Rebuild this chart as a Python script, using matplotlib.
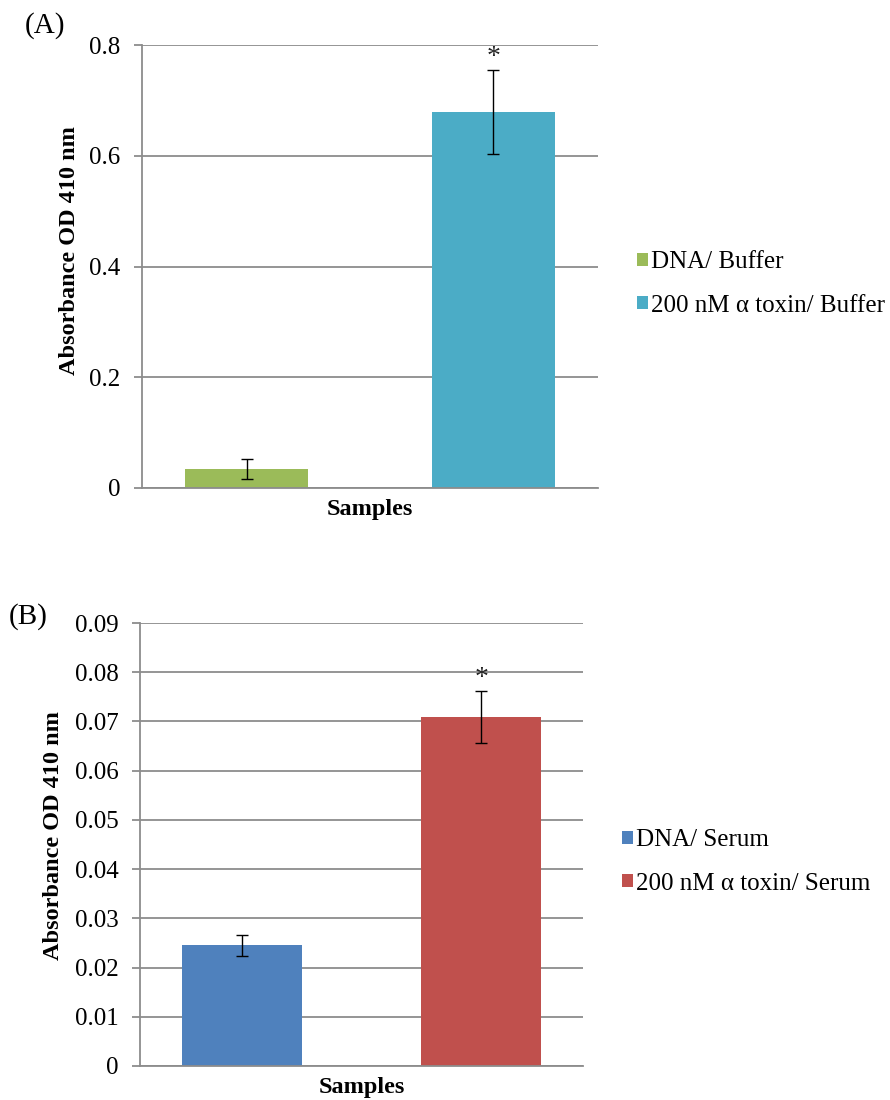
import matplotlib
matplotlib.use("Agg")
import matplotlib.pyplot as plt
from matplotlib.patches import Patch

plt.rcParams['font.family'] = ['Liberation Serif', 'DejaVu Serif']

# ---- data ----
labels_A = ["DNA/ Buffer", "200 nM \u03b1 toxin/ Buffer"]
values_A = [0.034, 0.679]
errors_A = [0.018, 0.076]
signif_A = ["", "*"]

labels_B = ["DNA/ Serum", "200 nM \u03b1 toxin/ Serum"]
values_B = [0.0245, 0.0709]
errors_B = [0.0022, 0.0053]
signif_B = ["", "*"]

colors_A = ["#9BBB59", "#4BACC6"]
colors_B = ["#4F81BD", "#C0504D"]

ylim_A = (0, 0.8)
yticks_A = [0, 0.2, 0.4, 0.6, 0.8]
yticklabels_A = ["0", "0.2", "0.4", "0.6", "0.8"]
ylim_B = (0, 0.09)
yticks_B = [0, 0.01, 0.02, 0.03, 0.04, 0.05, 0.06, 0.07, 0.08, 0.09]
yticklabels_B = ["0", "0.01", "0.02", "0.03", "0.04", "0.05", "0.06", "0.07", "0.08", "0.09"]

FS = 18
FS_LAB = 17.5
GRID = "#8C8C8C"

fig = plt.figure(figsize=(8.9, 11), dpi=100)

W, H = 890.0, 1100.0
def axes_px(left, top, right, bottom):
    return fig.add_axes([left / W, 1 - bottom / H, (right - left) / W, (bottom - top) / H])

axA = axes_px(142, 45, 598, 488)
axB = axes_px(140, 623, 583, 1066)

def draw(ax, labels, values, errors, signif, colors, ylim, yticks, yticklabels,
         ylab_xy, legend_xy, panel, panel_xy):
    xs = list(range(len(values)))
    ax.bar(xs, values, width=0.5, color=colors, zorder=2)
    ax.errorbar(xs, values, yerr=errors, fmt="none", ecolor="black",
                elinewidth=1.0, capsize=4.5, capthick=1.0, zorder=3)
    for x, v, e, s in zip(xs, values, errors, signif):
        if s:
            ax.annotate(s, (x, v + e), xytext=(0, 0), textcoords="offset points",
                        ha="center", va="bottom", fontsize=20, color="#222222")
    ax.set_xlim(-0.425, 1.425)
    ax.set_ylim(*ylim)
    ax.set_yticks(yticks)
    ax.set_yticklabels(yticklabels, fontsize=FS)
    ax.set_xticks([])
    ax.yaxis.grid(True, color=GRID, linewidth=1.3, zorder=0)
    ax.set_axisbelow(True)
    for side in ("top", "right"):
        ax.spines[side].set_visible(False)
    for side in ("left", "bottom"):
        ax.spines[side].set_color(GRID)
        ax.spines[side].set_linewidth(1.3)
    ax.tick_params(axis="y", direction="out", length=5.5, width=1.3, color=GRID, pad=10)
    ax.set_xlabel("Samples", fontsize=FS_LAB, fontweight="bold", labelpad=8)
    ax.set_ylabel("Absorbance OD 410 nm", fontsize=FS_LAB, fontweight="bold", va="center")
    ax.yaxis.set_label_coords(*ylab_xy)
    handles = [Patch(facecolor=c, edgecolor="none") for c in colors]
    fig.legend(handles, labels, loc="center left",
               bbox_to_anchor=(legend_xy[0] / W, 1 - legend_xy[1] / H),
               frameon=False, fontsize=FS, handlelength=0.42, handleheight=0.42,
               handletextpad=0.15, labelspacing=0.85, borderpad=0, borderaxespad=0)
    fig.text(panel_xy[0] / W, 1 - panel_xy[1] / H, panel, fontsize=21,
             ha="center", va="center")

draw(axA, labels_A, values_A, errors_A, signif_A, colors_A, ylim_A, yticks_A, yticklabels_A,
     (-0.158, 0.537), (637, 284), "(A)", (45, 26))
draw(axB, labels_B, values_B, errors_B, signif_B, colors_B, ylim_B, yticks_B, yticklabels_B,
     (-0.196, 0.521), (622, 862), "(B)", (28, 617))

fig.savefig("out.png", dpi=100)
